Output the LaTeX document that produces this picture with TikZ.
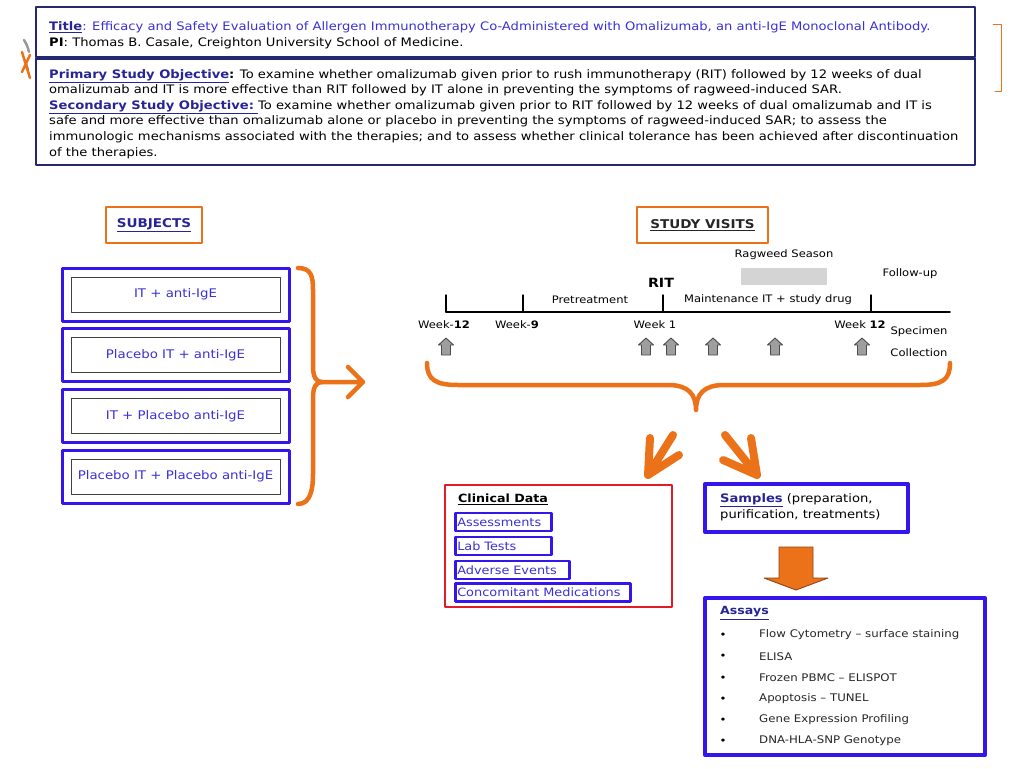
\documentclass[tikz,border=0pt]{standalone}
\usepackage{fontspec}
\setmainfont{DejaVu Sans}[FakeStretch=1.12]
\usetikzlibrary{positioning}
\definecolor{navy}{RGB}{36,40,112}
\definecolor{linkblue}{RGB}{40,36,150}
\definecolor{txtblue}{RGB}{58,48,214}
\definecolor{boxblue}{RGB}{52,22,236}
\definecolor{orng}{RGB}{236,114,26}
\definecolor{redbox}{RGB}{226,28,38}
\begin{document}
\begin{tikzpicture}[x=1pt,y=-1pt,line join=round,line cap=round,
  txt/.style={anchor=base west,inner sep=0,font=\fontsize{11.7}{15}\selectfont},
  tl/.style={inner sep=0,font=\fontsize{10.3}{13}\selectfont},
  hdrbox/.style={draw=orng,line width=2,minimum height=36,inner sep=0,font=\fontsize{12.1}{15}\selectfont\bfseries},
  grp/.style={draw=boxblue,line width=3,minimum width=227,minimum height=53},
  grpin/.style={draw=black!75,line width=1,minimum width=209,minimum height=35,inner sep=0,text=txtblue,font=\fontsize{11.9}{15}\selectfont},
  cbox/.style={draw=boxblue,line width=2.5,anchor=west,inner sep=2,minimum height=18,align=left,text=txtblue,font=\fontsize{11.5}{14}\selectfont},
  uparr/.pic={\draw[fill=black!38,draw=black!70,line width=0.9] (-4.5,8.5)--(-4.5,-1.5)--(-7.5,-1.5)--(0,-8.5)--(7.5,-1.5)--(4.5,-1.5)--(4.5,8.5)--cycle;},
  brace/.style={draw=orng,line width=4.5},
  fat/.style={draw=orng,line width=8}]
\useasboundingbox (0,0) rectangle (1024,768);
% logo bit and bracket
\draw[black!40,line width=2.5] (24,40)..controls (27,45)..(29,52) (25,60)--(28,70);
\draw[orng,line width=2.5] (22,52)--(30,78) (30,55)--(22,72);
\draw[orng,line width=1] (993,25)--(1001,25)--(1001,91)--(995,91);
% title and objectives
\draw[navy,line width=2.2] (36,7) rectangle (975,57) (36,58.5) rectangle (975,165);
\path (49,31)node[txt,text=txtblue](title){\textcolor{linkblue}{\underline{\textbf{Title}}}: Efficacy and Safety Evaluation of Allergen Immunotherapy Co-Administered with Omalizumab, an anti-IgE Monoclonal Antibody.}
  (49,47)node[txt](pi){\textbf{PI}: Thomas B. Casale, Creighton University School of Medicine.}
  (49,78)node[txt](obj1){\textcolor{linkblue}{\underline{\textbf{Primary Study Objective}}}\textbf{:} To examine whether omalizumab given prior to rush immunotherapy (RIT) followed by 12 weeks of dual}
  (49,93)node[txt](obj2){omalizumab and IT is more effective than RIT followed by IT alone in preventing the symptoms of ragweed-induced SAR.}
  (49,109)node[txt](obj3){\textcolor{linkblue}{\underline{\textbf{Secondary Study Objective:}\ }}To examine whether omalizumab given prior to RIT followed by 12 weeks of dual omalizumab and IT is}
  (49,124)node[txt](obj4){safe and more effective than omalizumab alone or placebo in preventing the symptoms of ragweed-induced SAR; to assess the}
  (49,140)node[txt](obj5){immunologic mechanisms associated with the therapies; and to assess whether clinical tolerance has been achieved after discontinuation}
  (49,156)node[txt](obj6){of the therapies.};
% subjects
\node[hdrbox,minimum width=96] (subj) at (154,225) {\textcolor{linkblue}{\underline{SUBJECTS}}};
\foreach \t [count=\i] in {IT + anti-IgE,Placebo IT + anti-IgE,IT + Placebo anti-IgE,Placebo IT + Placebo anti-IgE}{
  \node[grp] (g\i) at (175.5,{294.5+60.7*(\i-1)}) {};
  \node[grpin] (gi\i) at (g\i) {\t};
}
\coordinate (bl) at (322,382);
\coordinate (br) at (363,382);
\draw[brace] (298,268)..controls (311,268) and (313,276)..(313,290)--(313,366)..controls (313,377) and (316,382)..(bl)
  ..controls (316,382) and (313,387)..(313,398)--(313,474)..controls (313,488) and (311,504)..(298,504);
\draw[brace] (bl)--(br) (348,367)--(br)--(348,397);
% study visits
\node[hdrbox,minimum width=131,text=black!85] (visits) at (702.5,225) {\underline{STUDY VISITS}};
\fill[black!17] (741,268) rectangle (827,285);
\draw (784,255)node[tl](rag){Ragweed Season} (910,274)node[tl](fol){Follow-up}
  (661,283)node[tl,font=\fontsize{12.7}{15}\selectfont\bfseries](rit){RIT}
  (590,300)node[tl](pre){Pretreatment} (768,300)node[tl](mnt){Maintenance IT + study drug}
  (444,325)node[tl](w12){Week-\textbf{12}} (517,325)node[tl](w9){Week-\textbf{9}}
  (655,325)node[tl](w1){Week 1} (860,325)node[tl](wk12){Week \textbf{12}}
  (919,332)node[tl](spec){Specimen} (919,353)node[tl](coll){Collection};
\draw[line width=1.5] (446,312)--(950,312);
\foreach \x in {446,523,663,871} \draw[line width=1.5] (\x,295)--(\x,312);
\foreach \x [count=\i] in {446,646,671,713,775,862} \pic (up\i) at (\x,346.5) {uparr};
\coordinate (bt) at (696,410);
\draw[brace] (427,363)..controls (427,380) and (436,385)..(458,385)--(668,385)..controls (688,385) and (696,394)..(bt)
  ..controls (696,394) and (704,385)..(724,385)--(920,385)..controls (942,385) and (950,380)..(950,363);
% outputs
\node[draw=redbox,line width=2,minimum width=227,minimum height=122,inner sep=0] (clin) at (558.5,546) {};
\node[anchor=west,inner sep=0,font=\fontsize{11.3}{14}\selectfont\bfseries] (clinh) at (458,499) {\underline{Clinical Data}};
\node[cbox,text width=92] (c1) at (454,522) {Assessments};
\node[cbox,text width=92] (c2) at (454,546) {Lab Tests};
\node[cbox,text width=110] (c3) at (454,570) {Adverse Events};
\node[cbox,text width=171] (c4) at (454,592.5) {Concomitant Medications};
\node[draw=boxblue,line width=4,minimum width=203,minimum height=48,inner sep=0] (samp) at (806.5,508) {};
\node[anchor=north west,inner sep=0,align=left,font=\fontsize{11.7}{16}\selectfont] (samph) at (720,493) {\textcolor{linkblue}{\underline{\textbf{Samples}}} (preparation,\\purification, treatments)};
\node[draw=boxblue,line width=4,minimum width=280,minimum height=157,inner sep=0] (assay) at (845,676.5) {};
\node[anchor=west,inner sep=0,font=\fontsize{11.25}{14}\selectfont\bfseries,text=linkblue] (assh) at (720,613) {\underline{Assays}};
\foreach \t [count=\i] in {Flow Cytometry -- surface staining,ELISA,Frozen PBMC -- ELISPOT,Apoptosis -- TUNEL,Gene Expression Profiling,DNA-HLA-SNP Genotype}{
  \node[anchor=center,inner sep=0,font=\fontsize{10.5}{12}\selectfont] (b\i) at (723,{636+21.2*(\i-1)}) {•};
  \node[anchor=west,inner sep=0,font=\fontsize{10.5}{13}\selectfont,text=black!85] (as\i) at (759,{635+21.2*(\i-1)}) {\t};
}
\coordinate (dtop) at (796,547);
\draw[draw=orng!60!black,fill=orng,line width=0.9] (dtop) ++(-17,0) -- ++(34,0) -- ++(0,31) -- ++(15,0) -- ++(-32,12) -- ++(-32,-12) -- ++(15,0) -- cycle;
% arrows from the visits brace
\coordinate (lt) at (673,435); \coordinate (lh) at (648,475);
\coordinate (rt) at (725,435); \coordinate (rh) at (757,475);
\draw[fat] (lt)--(lh) (650,438)--(lh)--(679,455);
\draw[fat] (rt)--(rh) (751,438)--(rh)--(723,460);
\end{tikzpicture}
\end{document}
